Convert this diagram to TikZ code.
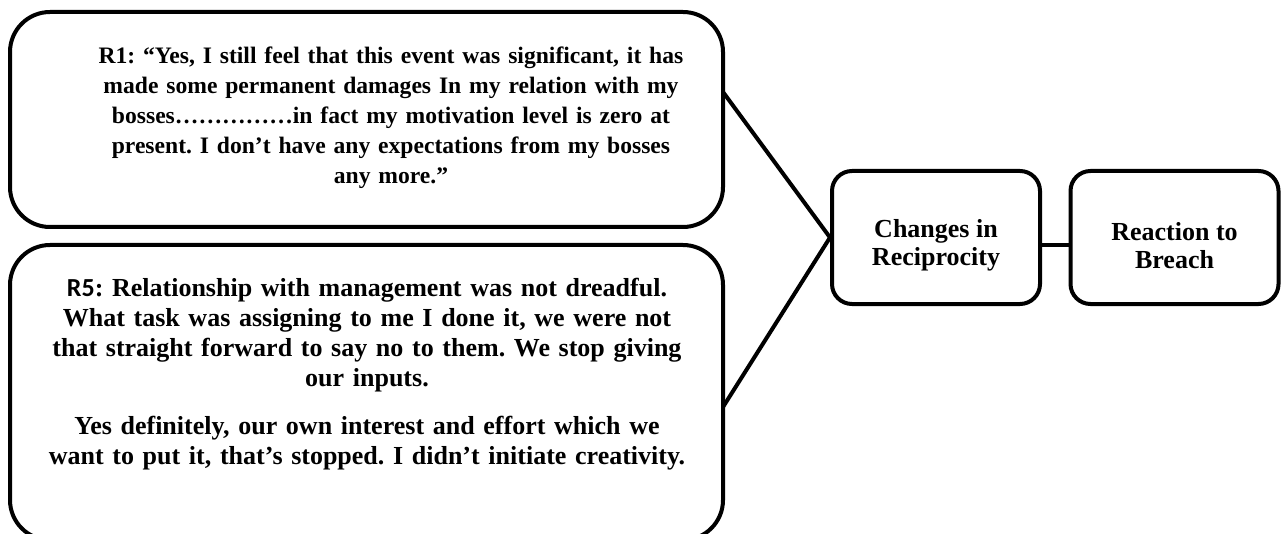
\documentclass[tikz,border=0pt]{standalone}
\usepackage{fontspec}
\setmainfont{Liberation Serif}
\newfontfamily\labelfont{Carlito}

\begin{document}
\frenchspacing
\begin{tikzpicture}[x=0.5pt,y=-0.5pt,line width=2pt,
  quote/.style={draw,rounded corners=20pt,minimum width=356.5pt,inner sep=0pt},
  quotetext/.style={align=center,text width=345pt,inner sep=0pt},
  theme/.style={draw,rounded corners=10pt,minimum width=104pt,minimum height=66.5pt,inner sep=0pt},
  themetext/.style={align=center,font=\bfseries\fontsize{13}{14}\selectfont}]
\useasboundingbox (0,0) rectangle (1284,534);

% Quote boxes
\node[quote,minimum height=107.5pt] (quoteA) at (366.5,119.5) {};
\node[quotetext,font=\bfseries\fontsize{11.8}{15}\selectfont] (textA) at (391,118) {R1: “Yes, I still feel that this event was significant, it has\\
made some permanent damages In my relation with my\\
bosses……………in fact my motivation level is zero at\\
present. I don’t have any expectations from my bosses\\
any more.”};
\node[quote,minimum height=147.5pt] (quoteB) at (366.5,392.5) {};
\node[quotetext,font=\bfseries\fontsize{13}{15}\selectfont] (textB) at (367,374) {{\labelfont R5}: Relationship with management was not dreadful.\\
What task was assigning to me I done it, we were not\\
that straight forward to say no to them. We stop giving\\
our inputs.\\[9pt]
Yes definitely, our own interest and effort which we\\
want to put it, that’s stopped. I didn’t initiate creativity.};

% Themes
\node[theme,label={[themetext,yshift=-4pt]center:Changes in\\Reciprocity}] (changes) at (936,237.5) {};
\node[theme,label={[themetext,yshift=-4pt]center:Reaction to\\Breach}] (reaction) at (1174.5,237.5) {};

% Connectors
\coordinate (tipA) at (723,92);
\coordinate (tipB) at (723,407);
\draw (tipA) -- (changes.west) -- (tipB);
\draw ([yshift=-3.75pt]changes.east) -- ([yshift=-3.75pt]reaction.west);
\end{tikzpicture}
\end{document}
